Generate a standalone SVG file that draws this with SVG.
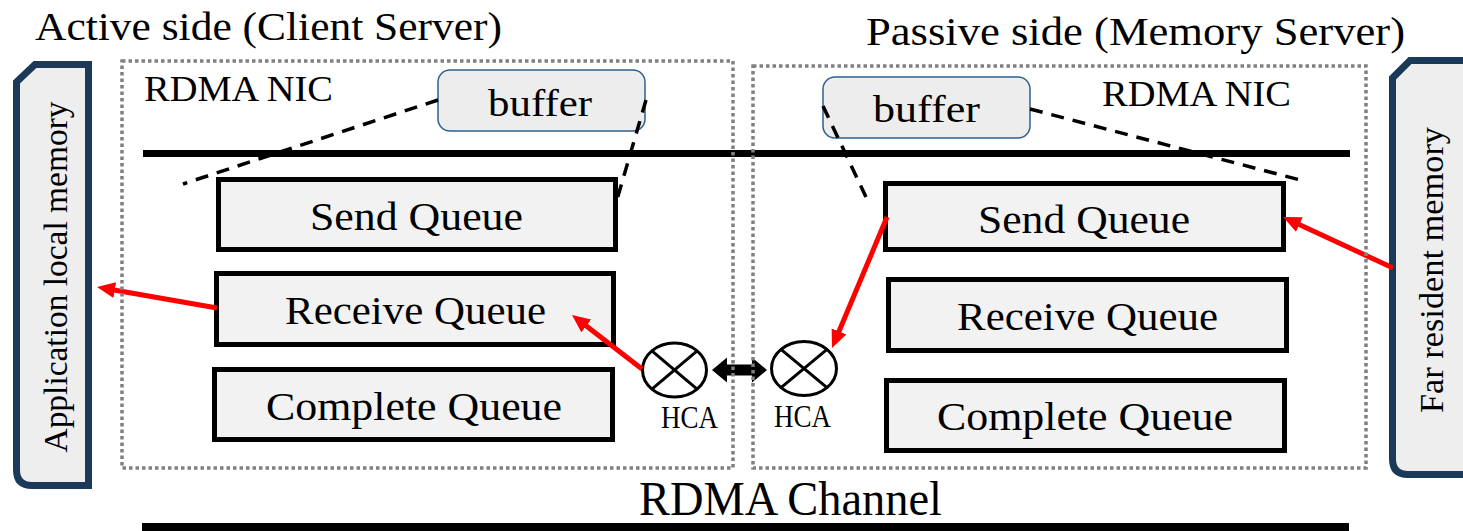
<svg xmlns="http://www.w3.org/2000/svg" width="1463" height="531" viewBox="0 0 1463 531">
  <style>
    text { font-family: "Liberation Serif", "DejaVu Serif", serif; fill: #000; }
    .title { font-size: 40px; }
    .nic { font-size: 36px; }
    .buf { font-size: 38px; }
    .q { font-size: 41px; }
    .mem { font-size: 33px; }
    .hca { font-size: 31px; }
    .chan { font-size: 49px; }
    .queue { fill: #f2f2f2; stroke: #000; stroke-width: 5; }
    .buffer { fill: #ededed; stroke: #2f5f8f; stroke-width: 1.5; }
    .tab { fill: #eeeeee; stroke: #1b3a5a; stroke-width: 7; stroke-linejoin: miter; }
    .nicbox { fill: none; stroke: #808080; stroke-width: 3.5; stroke-dasharray: 3.5 3; }
    .dash { stroke: #000; stroke-width: 3.5; stroke-dasharray: 13 9; fill: none; }
    .flow { stroke: #ff0000; stroke-width: 5; fill: none; marker-end: url(#redHead); }
    .hcaBody { fill: #fff; stroke: #000; stroke-width: 3; }
    .hcaX { stroke: #000; stroke-width: 3; }
  </style>
  <defs>
    <marker id="redHead" markerUnits="userSpaceOnUse" markerWidth="18" markerHeight="16" refX="8" refY="8" orient="auto">
      <path d="M0,0 L18,8 L0,16 Z" fill="#ff0000"/>
    </marker>
  </defs>

  <rect width="1463" height="531" fill="#ffffff"/>

  <!-- headings -->
  <text class="title" x="35" y="40" textLength="467" lengthAdjust="spacingAndGlyphs">Active side (Client Server)</text>
  <text class="title" x="866" y="45" textLength="539" lengthAdjust="spacingAndGlyphs">Passive side (Memory Server)</text>

  <!-- memory tabs -->
  <g id="app-local-memory">
    <path class="tab" d="M16.5,82 L35,64.5 L88.5,64.5 L88.5,485.5 L32,485.5 Q16.5,485.5 16.5,470 Z"/>
    <text class="mem" transform="translate(67,277) rotate(-90)" text-anchor="middle" textLength="351" lengthAdjust="spacingAndGlyphs">Application local memory</text>
  </g>
  <g id="far-resident-memory">
    <path class="tab" d="M1392.5,78 L1410,60.5 L1475,60.5 L1475,474.5 L1408,474.5 Q1392.5,474.5 1392.5,459 Z"/>
    <text class="mem" transform="translate(1443,270) rotate(-90)" text-anchor="middle" textLength="286" lengthAdjust="spacingAndGlyphs">Far resident memory</text>
  </g>

  <!-- shared bus line -->
  <rect x="143" y="150" width="1207" height="7" fill="#000"/>

  <!-- client side NIC -->
  <g id="client-nic">
    <text class="nic" x="144" y="101" textLength="189" lengthAdjust="spacingAndGlyphs">RDMA NIC</text>
  </g>
  <g id="client-buffer">
    <rect class="buffer" x="438" y="70" width="207" height="61" rx="12"/>
    <text class="buf" x="488" y="116" textLength="104" lengthAdjust="spacingAndGlyphs">buffer</text>
  </g>
  <g id="client-send-queue">
    <rect class="queue" x="218.5" y="179.5" width="397" height="70"/>
    <text class="q" x="416.5" y="230" text-anchor="middle" textLength="213" lengthAdjust="spacingAndGlyphs">Send Queue</text>
  </g>
  <g id="client-receive-queue">
    <rect class="queue" x="216.5" y="273.5" width="397" height="71"/>
    <text class="q" x="415.5" y="324" text-anchor="middle" textLength="261" lengthAdjust="spacingAndGlyphs">Receive Queue</text>
  </g>
  <g id="client-complete-queue">
    <rect class="queue" x="214.5" y="369.5" width="398" height="70"/>
    <text class="q" x="414" y="420" text-anchor="middle" textLength="296" lengthAdjust="spacingAndGlyphs">Complete Queue</text>
  </g>
  <g id="client-hca">
    <ellipse class="hcaBody" cx="674.5" cy="370" rx="32" ry="27"/>
    <line class="hcaX" x1="651.9" y1="350.9" x2="697.1" y2="389.1"/>
    <line class="hcaX" x1="651.9" y1="389.1" x2="697.1" y2="350.9"/>
    <text class="hca" x="661" y="428" textLength="57" lengthAdjust="spacingAndGlyphs">HCA</text>
  </g>

  <!-- memory server side NIC -->
  <g id="server-nic">
    <text class="nic" x="1102" y="106" textLength="189" lengthAdjust="spacingAndGlyphs">RDMA NIC</text>
  </g>
  <g id="server-buffer">
    <rect class="buffer" x="823" y="77" width="207" height="61" rx="12"/>
    <text class="buf" x="873" y="122" textLength="107" lengthAdjust="spacingAndGlyphs">buffer</text>
  </g>
  <g id="server-send-queue">
    <rect class="queue" x="885.5" y="183.5" width="398" height="66"/>
    <text class="q" x="1084" y="233" text-anchor="middle" textLength="212" lengthAdjust="spacingAndGlyphs">Send Queue</text>
  </g>
  <g id="server-receive-queue">
    <rect class="queue" x="888.5" y="279.5" width="398" height="71"/>
    <text class="q" x="1087.5" y="330" text-anchor="middle" textLength="261" lengthAdjust="spacingAndGlyphs">Receive Queue</text>
  </g>
  <g id="server-complete-queue">
    <rect class="queue" x="886.5" y="380.5" width="398" height="70"/>
    <text class="q" x="1085" y="430" text-anchor="middle" textLength="296" lengthAdjust="spacingAndGlyphs">Complete Queue</text>
  </g>
  <g id="server-hca">
    <ellipse class="hcaBody" cx="804" cy="368.5" rx="32.5" ry="27"/>
    <line class="hcaX" x1="781" y1="349.4" x2="827" y2="387.6"/>
    <line class="hcaX" x1="781" y1="387.6" x2="827" y2="349.4"/>
    <text class="hca" x="774" y="427" textLength="57" lengthAdjust="spacingAndGlyphs">HCA</text>
  </g>

  <!-- connectors -->
  <g id="connectors">
    <!-- buffer fan-out to the queue area -->
    <line class="dash" x1="438" y1="100" x2="183" y2="184"/>
    <line class="dash" x1="646" y1="100" x2="616" y2="203"/>
    <line class="dash" x1="823" y1="106" x2="866" y2="197"/>
    <line class="dash" x1="1030" y1="109" x2="1304" y2="181"/>
    <!-- data flow -->
    <line class="flow" x1="217" y1="308" x2="106.9" y2="288.7"/>
    <line class="flow" x1="642" y1="369" x2="579.9" y2="321.1"/>
    <line class="flow" x1="887" y1="217" x2="835.9" y2="338.8"/>
    <line class="flow" x1="1393" y1="268" x2="1292.1" y2="221.2"/>
    <!-- HCA link -->
    <polygon points="712,370 727,357.5 727,364.5 752,364.5 752,357.5 767,370 752,382.5 752,375.5 727,375.5 727,382.5" fill="#000"/>
  </g>

  <!-- NIC outlines -->
  <rect class="nicbox" x="122" y="61" width="611" height="407"/>
  <rect class="nicbox" x="753" y="66" width="613" height="402"/>

  <!-- channel -->
  <g id="rdma-channel">
    <text class="chan" x="639" y="515" textLength="303" lengthAdjust="spacingAndGlyphs">RDMA Channel</text>
    <rect x="142" y="523" width="1207" height="10" fill="#000"/>
  </g>
</svg>
